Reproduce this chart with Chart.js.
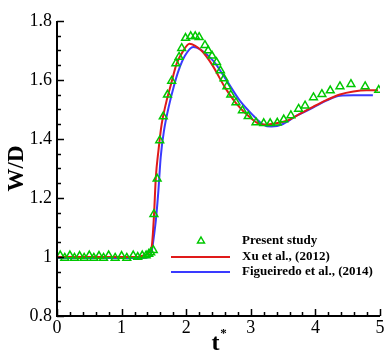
<!DOCTYPE html>
<html>
<head>
<meta charset="utf-8">
<script src="https://cdn.jsdelivr.net/npm/chart.js@4/dist/chart.umd.min.js"></script>
<style>
  html, body { margin: 0; padding: 0; background: #fff; }
</style>
</head>
<body>
<canvas id="chart" width="387" height="350"></canvas>
<script>
// Present study (green triangles)
var presentT = [0.05, 0.12, 0.2, 0.27, 0.35, 0.42, 0.5, 0.57, 0.65, 0.72, 0.8, 0.9, 1.0, 1.08, 1.18, 1.25, 1.32, 1.38, 1.42, 1.45, 1.49,
  1.50, 1.55, 1.59, 1.645, 1.71, 1.775, 1.84, 1.89, 1.93, 1.99, 2.07, 2.14, 2.20, 2.29, 2.34, 2.40, 2.47, 2.53, 2.585, 2.63, 2.69,
  2.77, 2.87, 2.96, 3.08, 3.20, 3.30, 3.41, 3.51, 3.62, 3.74, 3.84, 3.97, 4.10, 4.23, 4.38, 4.55, 4.77, 4.98];
var presentW = [1.005, 0.997, 1.005, 0.997, 1.003, 0.997, 1.005, 0.997, 1.003, 0.997, 1.005, 0.997, 1.003, 0.997, 1.005, 1.0, 1.005, 1.005, 1.01, 1.015, 1.023,
  1.145, 1.265, 1.395, 1.476, 1.55, 1.597, 1.656, 1.678, 1.708, 1.742, 1.748, 1.748, 1.745, 1.718, 1.70, 1.682, 1.66, 1.632, 1.605, 1.578, 1.55,
  1.524, 1.497, 1.477, 1.456, 1.453, 1.453, 1.455, 1.466, 1.48, 1.502, 1.513, 1.541, 1.552, 1.564, 1.578, 1.586, 1.578, 1.566];

// Xu et al., (2012) (red)
var xuT = [0, 0.5, 1.0, 1.2, 1.3, 1.4, 1.45, 1.47, 1.50, 1.53, 1.57, 1.62, 1.69, 1.77, 1.85, 1.955, 2.05, 2.14, 2.24, 2.40,
  2.60, 2.78, 2.99, 3.17, 3.35, 3.555, 3.76, 3.97, 4.17, 4.38, 4.59, 4.79, 4.97];
var xuW = [1.0, 1.0, 1.0, 1.0, 1.003, 1.01, 1.022, 1.04, 1.135, 1.27, 1.36, 1.45, 1.524, 1.59, 1.654, 1.699, 1.723, 1.716, 1.699, 1.652,
  1.575, 1.519, 1.473, 1.449, 1.452, 1.462, 1.485, 1.51, 1.532, 1.551, 1.561, 1.565, 1.565];

// Figueiredo et al., (2014) (blue)
var figT = [0, 0.5, 1.0, 1.3, 1.42, 1.466, 1.50, 1.53, 1.57, 1.605, 1.656, 1.74, 1.81, 1.88, 1.98, 2.11, 2.21, 2.42,
  2.63, 2.83, 3.04, 3.19, 3.32, 3.50, 3.71, 3.97, 4.17, 4.38, 4.59, 4.89];
var figW = [0.997, 0.997, 0.997, 0.997, 1.0, 1.02, 1.07, 1.124, 1.226, 1.338, 1.428, 1.519, 1.58, 1.631, 1.682, 1.712, 1.705, 1.665,
  1.597, 1.53, 1.479, 1.449, 1.442, 1.451, 1.479, 1.507, 1.53, 1.547, 1.548, 1.548];

var xTicks = [0, 1, 2, 3, 4, 5];
var yTicks = [0.8, 1, 1.2, 1.4, 1.6, 1.8];
var seriesNames = ['Present study', 'Xu et al., (2012)', 'Figueiredo et al., (2014)'];

function toPoints(xs, ys) {
  return xs.map(function(x, i) { return {x: x, y: ys[i]}; });
}

var SERIF = '"Liberation Serif", "Times New Roman", serif';
Chart.defaults.font.family = SERIF;
Chart.defaults.color = '#000';

// axes, inward ticks, axis titles and legend
var decorations = {
  id: 'decorations',
  afterDraw: function(chart) {
    var ctx = chart.ctx, xs = chart.scales.x, ys = chart.scales.y, a = chart.chartArea;
    ctx.save();
    ctx.strokeStyle = '#000';
    ctx.lineWidth = 1.5;
    ctx.beginPath();
    for (var v = 0; v <= 5.0001; v += 0.2) {
      var px = Math.round(xs.getPixelForValue(v)) + 0.5;
      var major = Math.abs(v - Math.round(v)) < 1e-6;
      ctx.moveTo(px, a.bottom);
      ctx.lineTo(px, a.bottom - (major ? 7 : 4));
    }
    for (var w = 0.8; w <= 1.8001; w += 0.05) {
      var py = Math.round(ys.getPixelForValue(w)) + 0.5;
      var maj = Math.abs(w * 5 - Math.round(w * 5)) < 1e-6;
      ctx.moveTo(a.left, py);
      ctx.lineTo(a.left + (maj ? 7 : 4), py);
    }
    ctx.stroke();

    ctx.lineWidth = 2;
    ctx.beginPath();
    ctx.moveTo(a.left, a.top);
    ctx.lineTo(a.left, a.bottom);
    ctx.lineTo(a.right, a.bottom);
    ctx.stroke();

    // axis titles
    ctx.fillStyle = '#000';
    ctx.font = 'bold 23px ' + SERIF;
    ctx.textAlign = 'center';
    ctx.textBaseline = 'middle';
    ctx.save();
    ctx.translate(17, (a.top + a.bottom) / 2);
    ctx.rotate(-Math.PI / 2);
    ctx.fillText('W/D', 0, 0);
    ctx.restore();

    var cx = (a.left + a.right) / 2 - 3;
    ctx.textBaseline = 'alphabetic';
    ctx.font = 'bold 24px ' + SERIF;
    ctx.fillText('t', cx, 350);
    ctx.font = 'bold 13px ' + SERIF;
    ctx.fillText('*', cx + 8, 337);

    // legend
    var ds = chart.data.datasets;
    var lx = 171, tx = 242, rows = [241, 257, 272];
    ctx.font = 'bold 13px ' + SERIF;
    ctx.textAlign = 'left';
    ctx.textBaseline = 'middle';
    ds.forEach(function(d, i) {
      var y = rows[i];
      if (d.showLine === false) {
        var r = 4, cxp = 201;
        ctx.strokeStyle = d.pointBorderColor;
        ctx.lineWidth = 1.5;
        ctx.beginPath();
        ctx.moveTo(cxp, y - r);
        ctx.lineTo(cxp + r * 0.866, y + r * 0.5);
        ctx.lineTo(cxp - r * 0.866, y + r * 0.5);
        ctx.closePath();
        ctx.stroke();
      } else {
        ctx.strokeStyle = d.borderColor;
        ctx.lineWidth = 2;
        ctx.beginPath();
        ctx.moveTo(lx, y);
        ctx.lineTo(230, y);
        ctx.stroke();
      }
      ctx.fillStyle = '#000';
      ctx.fillText(d.label, tx, y);
    });
    ctx.restore();
  }
};

new Chart(document.getElementById('chart'), {
  type: 'scatter',
  data: {
    datasets: [{
      label: seriesNames[0],
      data: toPoints(presentT, presentW),
      showLine: false,
      pointStyle: 'triangle',
      pointRadius: 4.5,
      pointBorderWidth: 1.5,
      pointBorderColor: '#00c800',
      pointBackgroundColor: 'rgba(0,0,0,0)'
    }, {
      label: seriesNames[1],
      data: toPoints(xuT, xuW),
      showLine: true,
      borderColor: '#e01a1a',
      borderWidth: 2,
      pointRadius: 0,
      cubicInterpolationMode: 'monotone'
    }, {
      label: seriesNames[2],
      data: toPoints(figT, figW),
      showLine: true,
      borderColor: '#3a3aff',
      borderWidth: 2,
      pointRadius: 0,
      cubicInterpolationMode: 'monotone'
    }]
  },
  options: {
    responsive: false,
    devicePixelRatio: 1,
    animation: false,
    layout: { padding: { top: 21, right: 7, left: 0, bottom: 0 } },
    plugins: {
      legend: { display: false },
      tooltip: { enabled: false }
    },
    scales: {
      x: {
        type: 'linear',
        min: 0, max: 5,
        afterBuildTicks: function(s) { s.ticks = xTicks.map(function(v) { return {value: v}; }); },
        afterFit: function(s) { s.height = 34; },
        grid: { display: false, drawTicks: false },
        border: { display: false },
        ticks: { font: { size: 18 }, padding: 1, maxRotation: 0,
          callback: function(v) { return String(+v.toFixed(2)); } }
      },
      y: {
        type: 'linear',
        min: 0.8, max: 1.8,
        afterBuildTicks: function(s) { s.ticks = yTicks.map(function(v) { return {value: v}; }); },
        afterFit: function(s) { s.width = 57; },
        grid: { display: false, drawTicks: false },
        border: { display: false },
        ticks: { font: { size: 18 }, padding: 5,
          callback: function(v) { return String(+v.toFixed(2)); } }
      }
    }
  },
  plugins: [decorations]
});
</script>
</body>
</html>
